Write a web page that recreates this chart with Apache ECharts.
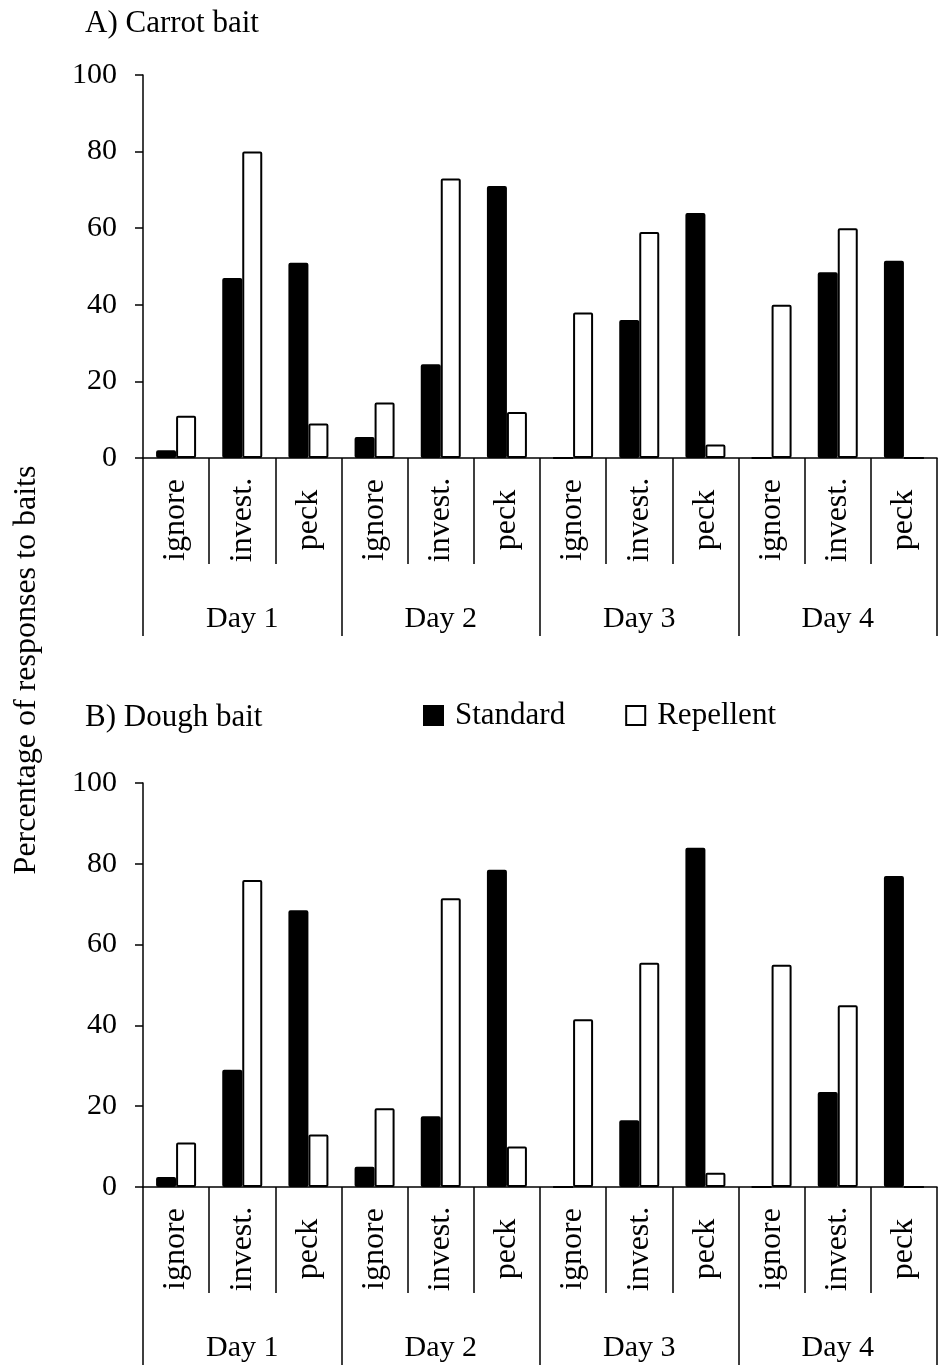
<!DOCTYPE html>
<html>
<head>
<meta charset="utf-8">
<script src="https://cdn.jsdelivr.net/npm/echarts@6/dist/echarts.min.js"></script>
<style>
html,body{margin:0;padding:0;background:#fff;}
#chart{width:939px;height:1368px;}
</style>
</head>
<body>
<div id="chart"></div>
<script>
const subCategories = ['ignore','invest.','peck','ignore','invest.','peck','ignore','invest.','peck','ignore','invest.','peck'];
const days = ['Day 1','Day 2','Day 3','Day 4'];
const yTicks = [0, 20, 40, 60, 80, 100];
const seriesNames = ['Standard', 'Repellent'];
const panelTitles = ['A) Carrot bait', 'B) Dough bait'];
const axisTitle = 'Percentage of responses to baits';

const carrotStandard  = [2, 47, 51, 5.5, 24.5, 71, 0, 36, 64, 0, 48.5, 51.5];
const carrotRepellent = [11, 80, 9, 14.5, 73, 12, 38, 59, 3.5, 40, 60, 0];
const doughStandard   = [2.5, 29, 68.5, 5, 17.5, 78.5, 0, 16.5, 84, 0, 23.5, 77];
const doughRepellent  = [11, 76, 13, 19.5, 71.5, 10, 41.5, 55.5, 3.5, 55, 45, 0];

const FONT = '"Liberation Serif", "Times New Roman", serif';
const chart = echarts.init(document.getElementById('chart'));

const grids = [
  {left: 143, width: 794, top: 75, height: 383},
  {left: 143, width: 794, top: 783, height: 404}
];

function subAxis(gi){
  return {
    type: 'category', gridIndex: gi, data: subCategories, position: 'bottom',
    axisLine: {show: true, lineStyle: {color: '#000', width: 1.5}},
    axisTick: {show: true, interval: 0, length: 106, lineStyle: {color: '#000', width: 1.5}},
    axisLabel: {interval: 0, rotate: 90, align: 'center', verticalAlign: 'middle', margin: 62,
      fontFamily: FONT, fontSize: 32, color: '#000'}
  };
}
function dayAxis(gi){
  return {
    type: 'category', gridIndex: gi, data: days, position: 'bottom',
    axisLine: {show: false},
    axisTick: {show: true, interval: 0, length: 178, lineStyle: {color: '#000', width: 1.5}},
    axisLabel: {interval: 0, margin: 146, fontFamily: FONT, fontSize: 30, color: '#000'}
  };
}
function yAx(gi){
  return {
    type: 'value', gridIndex: gi, min: yTicks[0], max: yTicks[yTicks.length-1], interval: 20,
    axisLine: {show: true, lineStyle: {color: '#000', width: 1.5}},
    axisTick: {show: true, length: 8, lineStyle: {color: '#000', width: 1.5}},
    splitLine: {show: false},
    axisLabel: {margin: 26, fontFamily: FONT, fontSize: 30, color: '#000'}
  };
}
function bar(name, data, xi, yi, fill){
  return {
    name: name, type: 'bar', data: data, xAxisIndex: xi, yAxisIndex: yi,
    barWidth: 20, barGap: '0%',
    itemStyle: {color: fill, borderColor: '#000', borderWidth: 2, borderRadius: 1},
    emphasis: {disabled: true}, animation: false
  };
}

chart.setOption({
  backgroundColor: '#fff',
  animation: false,
  textStyle: {fontFamily: FONT, color: '#000'},
  title: [
    {text: panelTitles[0], left: 80, top: 3, textStyle: {fontFamily: FONT, fontSize: 31, fontWeight: 'normal', color: '#000'}},
    {text: panelTitles[1], left: 80, top: 697, textStyle: {fontFamily: FONT, fontSize: 31, fontWeight: 'normal', color: '#000'}}
  ],
  legend: {
    left: 418, top: 695, itemWidth: 19, itemHeight: 19, itemGap: 60,
    icon: 'rect', data: seriesNames,
    textStyle: {fontFamily: FONT, fontSize: 31, color: '#000', padding: [0,0,0,7]}
  },
  grid: grids,
  xAxis: [subAxis(0), dayAxis(0), subAxis(1), dayAxis(1)],
  yAxis: [yAx(0), yAx(1)],
  series: [
    bar(seriesNames[0], carrotStandard, 0, 0, '#000'),
    bar(seriesNames[1], carrotRepellent, 0, 0, '#fff'),
    bar(seriesNames[0], doughStandard, 2, 1, '#000'),
    bar(seriesNames[1], doughRepellent, 2, 1, '#fff')
  ],
  graphic: [{
    type: 'text', x: 27, y: 670, rotation: Math.PI/2,
    style: {text: axisTitle, fontFamily: FONT, fontSize: 32, fill: '#000', align: 'center', verticalAlign: 'middle'}
  }]
});
</script>
</body>
</html>
